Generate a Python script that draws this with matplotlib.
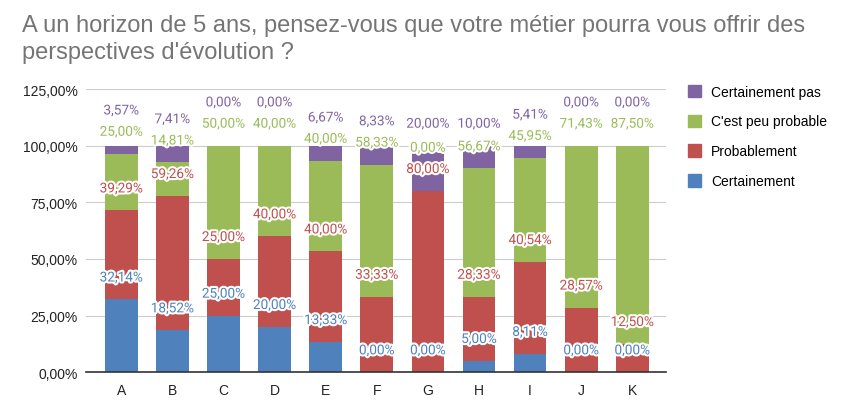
import numpy as np
import matplotlib
matplotlib.use("Agg")
import matplotlib.pyplot as plt
import matplotlib.patheffects as pe
from matplotlib.patches import Patch

# données (en %)
categories = ["A", "B", "C", "D", "E", "F", "G", "H", "I", "J", "K"]
certainement = [32.14, 18.52, 25.00, 20.00, 13.33, 0.00, 0.00, 5.00, 8.11, 0.00, 0.00]
probablement = [39.29, 59.26, 25.00, 40.00, 40.00, 33.33, 80.00, 28.33, 40.54, 28.57, 12.50]
peu_probable = [25.00, 14.81, 50.00, 40.00, 40.00, 58.33, 0.00, 56.67, 45.95, 71.43, 87.50]
certainement_pas = [3.57, 7.41, 0.00, 0.00, 6.67, 8.33, 20.00, 10.00, 5.41, 0.00, 0.00]

series = [
    ("Certainement", certainement, "#4F81BD"),
    ("Probablement", probablement, "#C0504D"),
    ("C'est peu probable", peu_probable, "#9BBB59"),
    ("Certainement pas", certainement_pas, "#8064A2"),
]

LABEL_OFFSET = 9.7   # décalage du label au-dessus du segment
LABEL_GAP = 9.4      # écart minimal entre deux labels

fig = plt.figure(figsize=(8.5, 4.06), dpi=100)
ax = fig.add_axes([86 / 850, 1 - 373.3 / 406, 580 / 850, 283.3 / 406])

x = np.arange(len(categories))
bottom = np.zeros(len(categories))
last_label = np.full(len(categories), -np.inf)
halo = [pe.withStroke(linewidth=3, foreground="white")]

for name, vals, col in series:
    vals = np.array(vals)
    ax.bar(x, vals, 0.64, bottom=bottom, color=col, zorder=2)
    top = bottom + vals
    for i, v in enumerate(vals):
        y = max(top[i] + LABEL_OFFSET, last_label[i] + LABEL_GAP)
        last_label[i] = y
        ax.text(x[i], y, f"{v:.2f}%".replace(".", ","), ha="center", va="center",
                color=col, fontsize=9.8, family="Roboto", path_effects=halo, zorder=4)
    bottom = top

ax.set_xlim(-0.69, 10.66)
ax.set_ylim(0, 125)
ax.set_yticks(np.arange(0, 126, 25))
ax.set_yticklabels([f"{t:.2f}%".replace(".", ",") for t in np.arange(0, 126, 25)])
ax.set_xticks(x)
ax.set_xticklabels(categories)
ax.tick_params(length=0, labelsize=10, colors="#222222", pad=6)
ax.tick_params(axis="x", pad=8)
for lab in ax.get_xticklabels() + ax.get_yticklabels():
    lab.set_family("Liberation Sans")
ax.grid(axis="y", color="#cccccc", linewidth=0.8, zorder=0)
for s in ["top", "right", "left"]:
    ax.spines[s].set_visible(False)
ax.spines["bottom"].set_color("#333333")
ax.spines["bottom"].set_linewidth(1.2)
ax.spines["bottom"].set_zorder(3)

fig.text(22 / 850, 1 - 15 / 406,
         "A un horizon de 5 ans, pensez-vous que votre métier pourra vous offrir des\nperspectives d'évolution ?",
         ha="left", va="top", fontsize=17, color="#757575", family="Liberation Sans",
         linespacing=1.28)

handles = [Patch(color=col, label=name) for name, _, col in reversed(series)]
fig.legend(handles=handles, loc="upper left", bbox_to_anchor=(675 / 850, 1 - 73 / 406),
           frameon=False, handlelength=1.0, handleheight=1.0,
           labelspacing=1.15, handletextpad=0.7,
           prop={"family": "Liberation Sans", "size": 10})

fig.savefig("out.png", dpi=100)
